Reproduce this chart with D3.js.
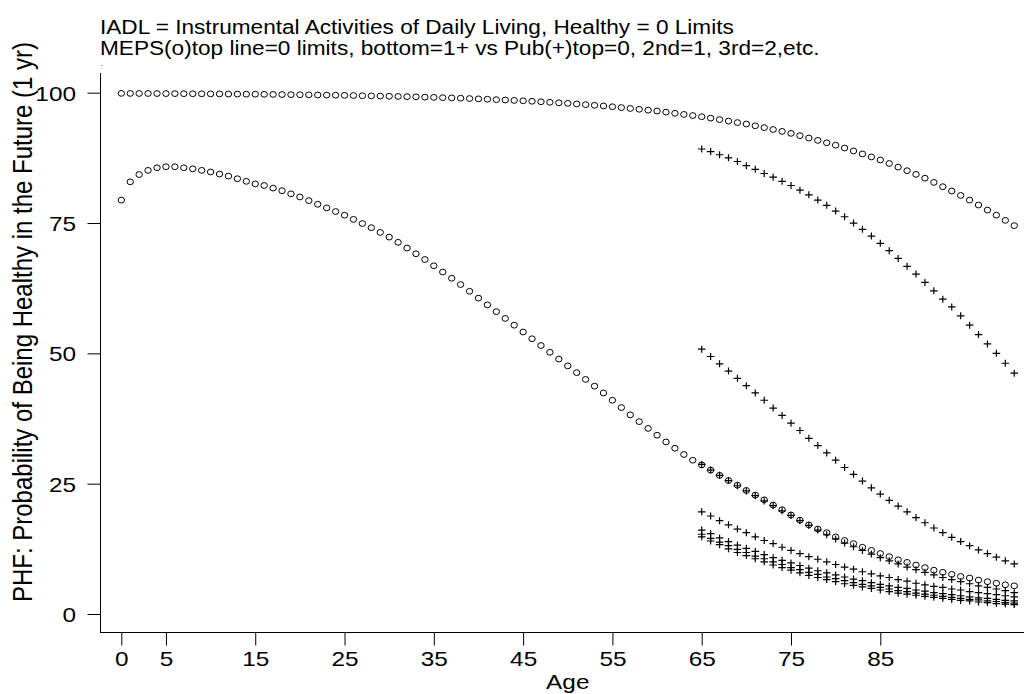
<!DOCTYPE html>
<html>
<head>
<meta charset="utf-8">
<script src="https://cdn.jsdelivr.net/npm/d3@7"></script>
<style>
  html, body { margin: 0; padding: 0; background: #fff; }
  svg { display: block; }
  text { font-family: "Liberation Sans", Arial, Helvetica, sans-serif; fill: #000; }
</style>
</head>
<body>
<svg id="chart" width="1024" height="694"></svg>
<script>
// MEPS estimates, ages 0..100 (circles)
const mepsStartAge = 0;
const mepsZeroLimits = [
  99.87, 99.86, 99.85, 99.85, 99.84, 99.83, 99.82, 99.81, 99.80, 99.79, 99.78,
  99.77, 99.75, 99.74, 99.72, 99.71, 99.69, 99.67, 99.65, 99.63, 99.61,
  99.59, 99.56, 99.54, 99.52, 99.49, 99.46, 99.42, 99.39, 99.35, 99.32,
  99.28, 99.24, 99.20, 99.15, 99.11, 99.05, 99.00, 98.94, 98.88, 98.82,
  98.75, 98.67, 98.60, 98.52, 98.45, 98.36, 98.26, 98.16, 98.06, 97.96,
  97.84, 97.71, 97.58, 97.45, 97.31, 97.15, 96.98, 96.82, 96.65, 96.48,
  96.27, 96.05, 95.83, 95.61, 95.39, 95.12, 94.84, 94.55, 94.27, 93.99,
  93.65, 93.30, 92.94, 92.58, 92.20, 91.76, 91.31, 90.85, 90.39, 89.93,
  89.38, 88.82, 88.25, 87.68, 87.10, 86.42, 85.73, 85.04, 84.33, 83.60,
  82.79, 81.97, 81.14, 80.29, 79.40, 78.45, 77.48, 76.50, 75.51, 74.50
];
const mepsOnePlusLimits = [
  79.4, 82.9, 84.3, 85.1, 85.6, 85.8, 85.8, 85.6, 85.4, 85.1, 84.8,
  84.4, 84.0, 83.5, 83.0, 82.5, 82.2, 81.7, 81.2, 80.6, 80.0,
  79.3, 78.6, 77.9, 77.2, 76.5, 75.7, 74.9, 74.1, 73.2, 72.3,
  71.3, 70.2, 69.1, 68.0, 66.8, 65.6, 64.4, 63.2, 61.9, 60.6,
  59.3, 58.0, 56.7, 55.4, 54.1, 52.8, 51.5, 50.2, 48.9, 47.6,
  46.3, 45.0, 43.7, 42.4, 41.0, 39.6, 38.2, 36.9, 35.6, 34.3,
  33.0, 31.8, 30.6, 29.5, 28.6, 27.6, 26.6, 25.6, 24.7, 23.7,
  22.8, 21.9, 20.9, 20.0, 19.0, 18.0, 17.1, 16.3, 15.6, 14.8,
  14.1, 13.5, 12.8, 12.2, 11.6, 11.0, 10.4, 9.9, 9.4, 8.9,
  8.4, 8.0, 7.6, 7.2, 6.9, 6.5, 6.2, 5.9, 5.6, 5.4
];

// Published estimates, ages 65..100 (plus signs), by number of limits
const pubStartAge = 65;
const pubLimits0 = [
  89.2, 88.7, 88.1, 87.5, 86.8, 86.0, 85.3, 84.5, 83.8, 83.0, 82.2,
  81.3, 80.4, 79.4, 78.4, 77.3, 76.2, 75.0, 73.8, 72.5, 71.1,
  69.7, 68.2, 66.7, 65.2, 63.6, 62.0, 60.4, 58.9, 57.2, 55.4,
  53.6, 51.8, 50.0, 48.1, 46.2
];
const pubLimits1 = [
  50.8, 49.4, 48.0, 46.6, 45.2, 43.8, 42.4, 41.0, 39.5, 38.1, 36.6,
  35.2, 33.7, 32.3, 30.9, 29.5, 28.1, 26.8, 25.5, 24.2, 23.0,
  21.8, 20.7, 19.6, 18.5, 17.5, 16.5, 15.6, 14.7, 13.9, 13.1,
  12.3, 11.6, 10.9, 10.2, 9.6
];
const pubLimits2 = [
  28.7, 27.6, 26.6, 25.6, 24.6, 23.6, 22.7, 21.7, 20.8, 19.8, 18.9,
  17.9, 17.0, 16.1, 15.2, 14.4, 13.6, 12.9, 12.2, 11.5, 10.8,
  10.2, 9.6, 9.0, 8.5, 8.0, 7.5, 7.0, 6.6, 6.2, 5.8,
  5.4, 5.1, 4.8, 4.5, 4.1
];
const pubLimits3 = [
  19.6, 18.8, 17.9, 17.1, 16.3, 15.6, 14.8, 14.1, 13.5, 12.8, 12.2,
  11.6, 11.0, 10.5, 10.0, 9.5, 9.0, 8.6, 8.1, 7.7, 7.3,
  7.0, 6.6, 6.3, 5.9, 5.6, 5.3, 5.1, 4.8, 4.6, 4.3,
  4.1, 3.9, 3.7, 3.5, 3.3
];
const pubLimits4 = [
  16.1, 15.4, 14.6, 13.9, 13.2, 12.6, 12.0, 11.4, 10.8, 10.3, 9.8,
  9.3, 8.8, 8.3, 7.9, 7.5, 7.1, 6.7, 6.4, 6.0, 5.7,
  5.4, 5.1, 4.9, 4.6, 4.4, 4.1, 3.9, 3.7, 3.5, 3.3,
  3.1, 3.0, 2.8, 2.6, 2.5
];
const pubLimits5 = [
  15.3, 14.5, 13.8, 13.1, 12.4, 11.8, 11.1, 10.6, 10.0, 9.5, 8.9,
  8.5, 8.0, 7.6, 7.1, 6.8, 6.4, 6.0, 5.7, 5.4, 5.1,
  4.8, 4.5, 4.3, 4.0, 3.8, 3.6, 3.4, 3.2, 3.0, 2.8,
  2.7, 2.5, 2.4, 2.2, 2.1
];
const pubLimits6 = [
  14.8, 14.0, 13.3, 12.5, 11.8, 11.2, 10.6, 10.0, 9.4, 8.9, 8.4,
  7.9, 7.4, 7.0, 6.6, 6.2, 5.8, 5.5, 5.2, 4.9, 4.6,
  4.3, 4.0, 3.8, 3.6, 3.4, 3.2, 3.0, 2.8, 2.6, 2.5,
  2.3, 2.2, 2.0, 1.9, 1.8
];

const xTickValues = [0, 5, 15, 25, 35, 45, 55, 65, 75, 85];
const yTickValues = [0, 25, 50, 75, 100];

const titleLines = [
  "IADL = Instrumental Activities of Daily Living, Healthy = 0 Limits",
  "MEPS(o)top line=0 limits, bottom=1+ vs Pub(+)top=0, 2nd=1, 3rd=2,etc."
];
const xTitle = "Age";
const yTitle = "PHF: Probability of Being Healthy in the Future (1 yr)";

// ---- layout ----
// the exported graph is wider than its native aspect, so glyphs are widened on screen
const stretch = 1.16;

const svg = d3.select("#chart");
const x = d3.scaleLinear().domain([0, 85]).range([121.3, 880.3]);
const y = d3.scaleLinear().domain([0, 100]).range([614, 92.7]);
const axisLeftX = 100.5;
const axisBottomY = 632.5;

function wideText(sel, px, py, size) {
  const f = v => (typeof v === "function" ? v : () => v);
  sel.attr("x", null).attr("y", null).attr("dy", null)
    .attr("transform", (d, i) => `translate(${f(px)(d, i)},${f(py)(d, i)}) scale(${stretch},1)`)
    .attr("font-size", size)
    .attr("font-family", "Liberation Sans, Arial, sans-serif")
    .attr("fill", "#000");
}

// y axis
const yAxis = svg.append("g")
  .attr("transform", `translate(${axisLeftX},0)`)
  .call(d3.axisLeft(y).tickValues(yTickValues).tickSize(13).tickFormat(d3.format("d")));
yAxis.select(".domain").remove();
yAxis.selectAll("line").attr("stroke", "#000");
yAxis.selectAll(".tick text").call(wideText, -24.5, 7.6, 21);
svg.append("line")
  .attr("x1", axisLeftX).attr("x2", axisLeftX)
  .attr("y1", 73).attr("y2", axisBottomY + 0.5)
  .attr("stroke", "#000");

// x axis
const xAxis = svg.append("g")
  .attr("transform", `translate(0,${axisBottomY})`)
  .call(d3.axisBottom(x).tickValues(xTickValues).tickSize(13).tickFormat(d3.format("d")));
xAxis.select(".domain").remove();
xAxis.selectAll("line").attr("stroke", "#000");
xAxis.selectAll(".tick text").call(wideText, 0, 33.5, 21);
svg.append("line")
  .attr("x1", axisLeftX).attr("x2", 1024)
  .attr("y1", axisBottomY).attr("y2", axisBottomY)
  .attr("stroke", "#000");

// axis titles
svg.append("text")
  .attr("text-anchor", "middle")
  .text(xTitle)
  .call(wideText, x(50), 689, 21);
svg.append("text")
  .attr("transform", `translate(32,322) rotate(-90) scale(1,${stretch})`)
  .attr("text-anchor", "middle").attr("font-size", 24)
  .text(yTitle);

// chart title
svg.selectAll("text.title").data(titleLines).join("text")
  .attr("class", "title")
  .text(d => d)
  .call(wideText, 100, (d, i) => 34 + i * 21, 19.5);
svg.append("text").attr("x", 100.5).attr("y", 66).attr("font-size", 8).text(".");

// ---- marks ----
const plot = svg.append("g");

function circles(values, startAge) {
  plot.append("g").selectAll("ellipse").data(values).join("ellipse")
    .attr("cx", (d, i) => x(startAge + i))
    .attr("cy", d => y(d))
    .attr("rx", 3.2)
    .attr("ry", 2.9)
    .attr("fill", "none")
    .attr("stroke", "#000")
    .attr("stroke-width", 1);
}
function pluses(values, startAge) {
  plot.append("g").selectAll("path").data(values).join("path")
    .attr("transform", (d, i) => `translate(${x(startAge + i)},${y(d)})`)
    .attr("d", "M-3.8,0H3.8M0,-3.5V3.5")
    .attr("fill", "none")
    .attr("stroke", "#000")
    .attr("stroke-width", 1.2);
}

circles(mepsZeroLimits, mepsStartAge);
circles(mepsOnePlusLimits, mepsStartAge);
[pubLimits0, pubLimits1, pubLimits2, pubLimits3, pubLimits4, pubLimits5, pubLimits6]
  .forEach(s => pluses(s, pubStartAge));
</script>
</body>
</html>
